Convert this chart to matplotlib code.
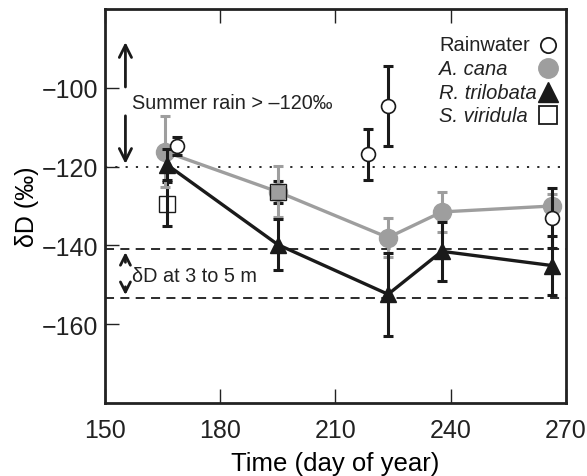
import numpy as np
import matplotlib
matplotlib.use('Agg')
import matplotlib.pyplot as plt

plt.rcParams['font.family'] = ['Liberation Sans', 'DejaVu Sans']

# Rainwater
rain_day = np.array([168.7, 218.5, 223.7, 266.3])
rain_d = np.array([-114.8, -116.9, -104.6, -133.0])
rain_err = np.array([2.2, 6.5, 10.2, 7.6])

# A. cana
cana_day = np.array([165.6, 195.0, 223.7, 237.7, 266.3])
cana_d = np.array([-116.2, -126.4, -138.0, -131.5, -130.0])
cana_err = np.array([9.0, 6.5, 5.0, 5.0, 3.0])

# R. trilobata
tril_day = np.array([166.1, 195.0, 223.7, 237.7, 266.3])
tril_d = np.array([-119.5, -139.8, -152.4, -141.5, -145.1])
tril_err = np.array([4.0, 6.5, 10.5, 7.5, 7.5])

# S. viridula
viri_day = np.array([166.1, 195.0])
viri_d = np.array([-129.5, -126.4])
viri_err = np.array([5.6, 2.8])

summer_rain = -120
deep_lo, deep_hi = -153.3, -141.0

gray = '#9e9e9e'
dark = '#1a1a1a'
txt = '#222222'

fig = plt.figure(figsize=(5.87, 4.77), dpi=100)
ax = fig.add_axes([0.179, 0.153, 0.785, 0.826])

ax.axhline(summer_rain, color=dark, lw=1.3, ls=(0, (1.2, 4.5)), zorder=1)
ax.axhline(deep_hi, color=dark, lw=1.3, ls=(0, (5, 3.5)), zorder=1)
ax.axhline(deep_lo, color=dark, lw=1.3, ls=(0, (5, 3.5)), zorder=1)

ax.errorbar(viri_day, viri_d, yerr=viri_err, fmt='none', ecolor=dark,
            elinewidth=2.2, capsize=3.5, capthick=2.2, zorder=2)
ax.errorbar(cana_day, cana_d, yerr=cana_err, fmt='-o', color=gray, ecolor=gray,
            lw=2.4, ms=13, elinewidth=2.2, capsize=3.5, capthick=2.2, zorder=3)
ax.errorbar(tril_day, tril_d, yerr=tril_err, fmt='-^', color=dark, ecolor=dark,
            lw=2.4, ms=12, elinewidth=2.2, capsize=3.5, capthick=2.2, zorder=4)
ax.errorbar(rain_day, rain_d, yerr=rain_err, fmt='none', ecolor=dark,
            elinewidth=2.2, capsize=3.5, capthick=2.2, zorder=5)
ax.plot(rain_day, rain_d, 'o', mfc='white', mec=dark, mew=1.2, ms=10, zorder=6)
ax.plot(viri_day, viri_d, 's', mfc='none', mec=dark, mew=1.0, ms=11, zorder=6)

ax.set_xlim(150, 270)
ax.set_ylim(-180, -80)
ax.set_xticks([150, 180, 210, 240, 270])
ax.set_yticks([-160, -140, -120, -100])
ax.set_yticklabels(['\u2212160', '\u2212140', '\u2212120', '\u2212100'])
ax.tick_params(direction='in', length=10, width=1.0, labelsize=18, top=True,
               colors=txt, pad=5)
ax.tick_params(axis='x', pad=11)
for s in ax.spines.values():
    s.set_linewidth(2.0)
    s.set_color(txt)

ax.set_xlabel('Time (day of year)', fontsize=18.5, labelpad=6)
ax.set_ylabel('\u03b4D (\u2030)', fontsize=18, labelpad=2)

# annotations
arrow = dict(arrowstyle='->', lw=2.0, color=dark, mutation_scale=22)
ax.annotate('', xy=(155.3, -87.7), xytext=(155.3, -100.5), arrowprops=arrow)
ax.annotate('', xy=(155.3, summer_rain), xytext=(155.3, -106.4), arrowprops=arrow)
ax.text(157.0, -103.8, 'Summer rain > \u2013120\u2030', fontsize=14.3, va='center',
        ha='left', color=txt)
arrow2 = dict(arrowstyle='->', lw=2.0, color=dark, mutation_scale=18)
ax.annotate('', xy=(155.3, deep_hi), xytext=(155.3, -145.0), arrowprops=arrow2)
ax.annotate('', xy=(155.3, deep_lo), xytext=(155.3, -149.8), arrowprops=arrow2)
ax.text(157.0, -147.7, '\u03b4D at 3 to 5 m', fontsize=14.3, va='center', ha='left',
        color=txt)

# legend: text left, marker right
labels = ['Rainwater', 'A. cana', 'R. trilobata', 'S. viridula']
styles = ['normal', 'italic', 'italic', 'italic']
markers = [dict(marker='o', mfc='white', mec=dark, mew=1.3, ms=11),
           dict(marker='o', mfc=gray, mec=gray, ms=14),
           dict(marker='^', mfc=dark, mec=dark, ms=14),
           dict(marker='s', mfc='white', mec=dark, mew=1.3, ms=13)]
rows = [0.909, 0.850, 0.789, 0.731]
for lab, st, mk, yy in zip(labels, styles, markers, rows):
    ax.text(0.7245, yy, lab, transform=ax.transAxes, fontsize=14.5, fontstyle=st,
            va='center', ha='left', color=txt)
    ax.plot([0.961], [yy], ls='none', transform=ax.transAxes, clip_on=False, **mk)

fig.savefig('out.png', dpi=100)
